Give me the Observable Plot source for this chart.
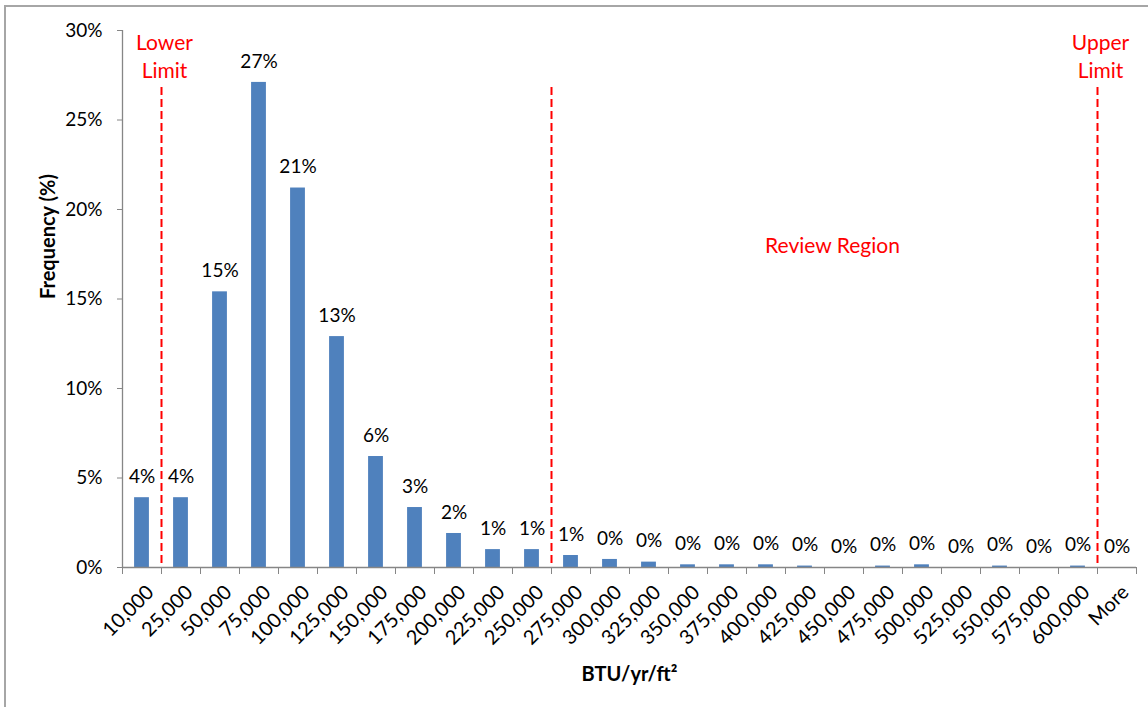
<!DOCTYPE html>
<html><head><meta charset="utf-8">
<script src="https://cdn.jsdelivr.net/npm/d3@7"></script>
<script src="https://cdn.jsdelivr.net/npm/@observablehq/plot@0.6"></script>
<style>
body{margin:0;background:#fff;font-family:Lato,"Open Sans",sans-serif;}
#wrap{position:relative;width:1148px;height:707px;overflow:hidden}
#frame{position:absolute;left:4px;top:5px;width:1170px;height:740px;border:2px solid #a6a6a6;box-sizing:border-box;pointer-events:none}
</style></head><body>
<div id="wrap"><div id="chart"></div><div id="frame"></div></div>
<script>
const categories = ["10,000","25,000","50,000","75,000","100,000","125,000","150,000","175,000","200,000","225,000","250,000","275,000","300,000","325,000","350,000","375,000","400,000","425,000","450,000","475,000","500,000","525,000","550,000","575,000","600,000","More"];
const frequency = [3.9,3.9,15.4,27.1,21.2,12.9,6.2,3.35,1.9,1.0,1.0,0.67,0.45,0.3,0.15,0.15,0.15,0.08,0,0.08,0.15,0,0.08,0,0.08,0];
const valueLabels = ["4%","4%","15%","27%","21%","13%","6%","3%","2%","1%","1%","1%","0%","0%","0%","0%","0%","0%","0%","0%","0%","0%","0%","0%","0%","0%"];
const yTicks = [0,5,10,15,20,25,30];
const limitAfter = ["10,000","250,000","600,000"];
const limitLabels = ["Lower\nLimit","","Upper\nLimit"];
const regionLabel = "Review Region";
const regionFrom = "250,000";
const regionTo = "600,000";
const yTitle = "Frequency (%)";
const xTitle = "BTU/yr/ft²";

const data = categories.map((c,i)=>({cat:c,i,v:frequency[i],label:valueLabels[i]}));
const boundaries = d3.range(categories.length+1);
const limits = limitAfter.map((c,k)=>({pos:categories.indexOf(c)+1,label:limitLabels[k]}));
const regionX = (categories.indexOf(regionFrom)+1 + categories.indexOf(regionTo)+1)/2;

const red = "#FF0000", axisGray = "#868686", blue = "#4F81BD";

const chart = Plot.plot({
  width:1148, height:707,
  marginLeft:122, marginRight:12, marginTop:30, marginBottom:140,
  style:{fontFamily:"Lato, 'Open Sans', sans-serif", fontSize:"19px", color:"#000", background:"#fff"},
  x:{domain:[0,categories.length], axis:null},
  y:{domain:[0,30], axis:null},
  marks:[
    Plot.rectY(data,{x1:d=>d.i+0.31, x2:d=>d.i+0.69, y:"v", fill:blue}),
    Plot.ruleX([0],{stroke:axisGray, strokeWidth:1.3}),
    Plot.ruleY([0],{stroke:axisGray, strokeWidth:1.3}),
    Plot.axisY({ticks:yTicks, tickFormat:d=>d+"%", tickSize:5, tickPadding:15, stroke:axisGray, fill:"#000", fontSize:19, label:null}),
    Plot.axisX({ticks:boundaries, tickFormat:()=>"", tickSize:7, stroke:axisGray, label:null}),
    Plot.text(data,{x:d=>d.i+0.5, y:"v", text:"label", dy:-21, fontSize:19, fill:"#000"}),
    Plot.text(data,{x:d=>d.i+0.5, frameAnchor:"bottom", text:"cat", rotate:-45, textAnchor:"end", lineAnchor:"top", dx:3, dy:16, fontSize:20, fill:"#000"}),
    Plot.ruleX(limits,{x:"pos", stroke:red, strokeWidth:2, strokeDasharray:"8,4", insetTop:57}),
    Plot.text(limits,{x:"pos", text:"label", frameAnchor:"top", lineAnchor:"top", dy:-1, dx:3, fill:red, fontSize:21, lineHeight:1.35}),
    Plot.text([regionLabel],{x:()=>regionX, frameAnchor:"top", lineAnchor:"middle", dy:216, dx:8, fill:red, fontSize:21}),
    Plot.text([yTitle],{frameAnchor:"left", dx:-74, rotate:-90, fontWeight:"bold", fontSize:20, fill:"#000"}),
    Plot.text([xTitle],{frameAnchor:"bottom", lineAnchor:"middle", dy:107, fontWeight:"bold", fontSize:20, fill:"#000"})
  ]
});
document.getElementById("chart").appendChild(chart);
</script>
</body></html>
